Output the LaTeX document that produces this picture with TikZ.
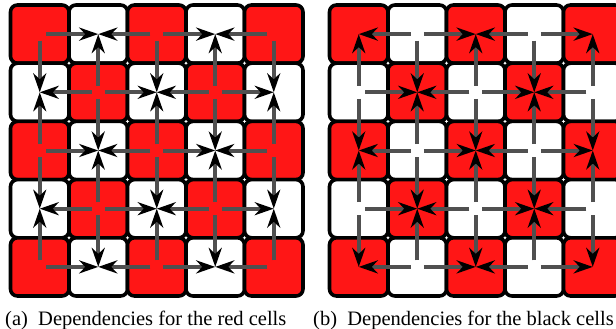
\documentclass[tikz,border=0pt]{standalone}
\usepackage{fontspec}
\setmainfont{Liberation Serif}
\usetikzlibrary{arrows.meta,calc}
\definecolor{cellcol0}{RGB}{255,22,22}
\definecolor{cellcol1}{RGB}{255,255,255}
\definecolor{arrgray}{RGB}{80,80,80}
\begin{document}
\begin{tikzpicture}[x=1pt,y=-1pt,
  cell/.style={draw=black,line width=3.6pt,rounded corners=7pt,minimum width=58.5pt,minimum height=58.2pt,inner sep=0pt,outer sep=0pt},
  dep/.style={draw=arrgray,line width=4pt,-{Stealth[length=19pt,width=13pt,inset=6pt,black]}},
  captext/.style={anchor=base west,inner sep=0pt,font=\rmfamily\fontsize{20.5}{24}\selectfont}]
\useasboundingbox (0,0) rectangle (616,329);
\foreach \g/\xo in {a/10.5,b/329.5}{
  \foreach \r in {0,...,4}{
    \foreach \c in {0,...,4}{
      \pgfmathtruncatemacro\pty{mod(\r+\c,2)}
      \node[cell,fill=cellcol\pty] (\g-\r-\c) at ({\xo+(\c+0.5)*58.5},{5+(\r+0.5)*58.2}) {};
    }
  }
}
\foreach \r in {0,...,4}{
  \foreach \c in {0,...,4}{
    \foreach \dr/\dc in {-1/0,1/0,0/-1,0/1}{
      \pgfmathtruncatemacro\nr{\r+\dr}
      \pgfmathtruncatemacro\nc{\c+\dc}
      \pgfmathtruncatemacro\ok{(\nr>=0)&&(\nr<=4)&&(\nc>=0)&&(\nc<=4)}
      \pgfmathtruncatemacro\pty{mod(\r+\c,2)}
      \ifnum\ok=1
        \ifnum\pty=0
          \draw[dep] ($(a-\r-\c.center)!6.5pt!(a-\nr-\nc.center)$) -- (a-\nr-\nc.center);
        \else
          \draw[dep] ($(b-\r-\c.center)!6.5pt!(b-\nr-\nc.center)$) -- (b-\nr-\nc.center);
        \fi
      \fi
    }
  }
}
\node[captext] (capa) at (5,325) {(a)\enspace Dependencies for the red cells};
\node[captext] (capb) at (313,325) {(b)\enspace Dependencies for the black cells};
\end{tikzpicture}
\end{document}
